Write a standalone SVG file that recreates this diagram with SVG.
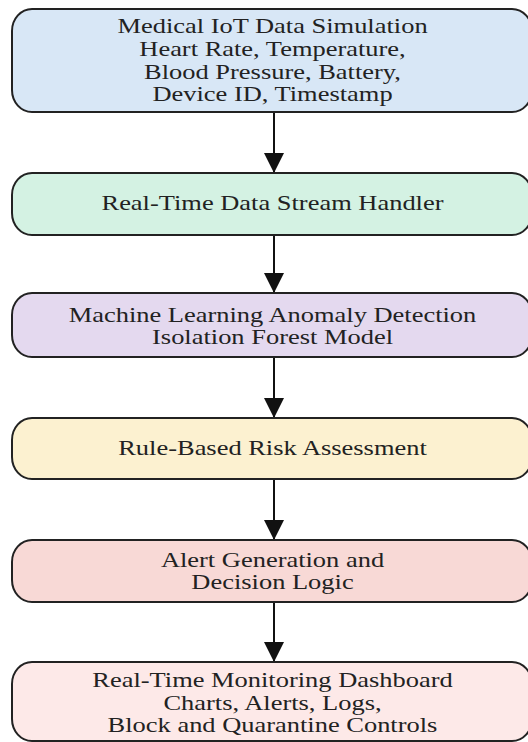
<svg xmlns="http://www.w3.org/2000/svg" width="528" height="742" viewBox="0 0 528 742">
<style>
.box{stroke:#222;stroke-width:2}
.t{font-family:"Liberation Serif","Times New Roman",serif;font-size:21px;fill:#222;text-anchor:middle}
.c{stroke:#111;stroke-width:2;fill:none}
</style>
<defs>
<marker id="ah" markerWidth="10" markerHeight="10" refX="10" refY="5" orient="auto" markerUnits="strokeWidth" viewBox="0 0 10 10">
<path d="M0,0 L10,5 L0,10 Z" fill="#111"/>
</marker>
</defs>
<rect width="528" height="742" fill="#fff"/>
<g id="connectors">
<line class="c" x1="274" y1="112" x2="274" y2="173" marker-end="url(#ah)"/>
<line class="c" x1="274" y1="235" x2="274" y2="293" marker-end="url(#ah)"/>
<line class="c" x1="274" y1="357" x2="274" y2="418" marker-end="url(#ah)"/>
<line class="c" x1="274" y1="479" x2="274" y2="540" marker-end="url(#ah)"/>
<line class="c" x1="274" y1="602" x2="274" y2="662" marker-end="url(#ah)"/>
</g>
<g id="node1">
<rect class="box" x="12" y="9" width="520" height="103" rx="20" ry="22" fill="#d8e7f6"/>
<g transform="translate(272.5,0) scale(1.26,1)">
<text class="t" x="0" y="33.5">Medical IoT Data Simulation</text>
<text class="t" x="0" y="56.5">Heart Rate, Temperature,</text>
<text class="t" x="0" y="79">Blood Pressure, Battery,</text>
<text class="t" x="0" y="101.5">Device ID, Timestamp</text>
</g>
</g>
<g id="node2">
<rect class="box" x="12" y="173" width="520" height="62" rx="20" ry="22" fill="#d4f2e3"/>
<g transform="translate(272.5,0) scale(1.26,1)">
<text class="t" x="0" y="210">Real-Time Data Stream Handler</text>
</g>
</g>
<g id="node3">
<rect class="box" x="12" y="293" width="520" height="64" rx="20" ry="22" fill="#e4d9ef"/>
<g transform="translate(272.5,0) scale(1.26,1)">
<text class="t" x="0" y="322.5">Machine Learning Anomaly Detection</text>
<text class="t" x="0" y="344">Isolation Forest Model</text>
</g>
</g>
<g id="node4">
<rect class="box" x="12" y="418" width="520" height="61" rx="20" ry="22" fill="#fcf1d0"/>
<g transform="translate(272.5,0) scale(1.26,1)">
<text class="t" x="0" y="455">Rule-Based Risk Assessment</text>
</g>
</g>
<g id="node5">
<rect class="box" x="12" y="540" width="520" height="62" rx="20" ry="22" fill="#f8d9d6"/>
<g transform="translate(272.5,0) scale(1.26,1)">
<text class="t" x="0" y="567">Alert Generation and</text>
<text class="t" x="0" y="589">Decision Logic</text>
</g>
</g>
<g id="node6">
<rect class="box" x="12" y="662" width="520" height="79" rx="20" ry="22" fill="#fde9e8"/>
<g transform="translate(272.5,0) scale(1.26,1)">
<text class="t" x="0" y="687">Real-Time Monitoring Dashboard</text>
<text class="t" x="0" y="710">Charts, Alerts, Logs,</text>
<text class="t" x="0" y="732">Block and Quarantine Controls</text>
</g>
</g>
</svg>
